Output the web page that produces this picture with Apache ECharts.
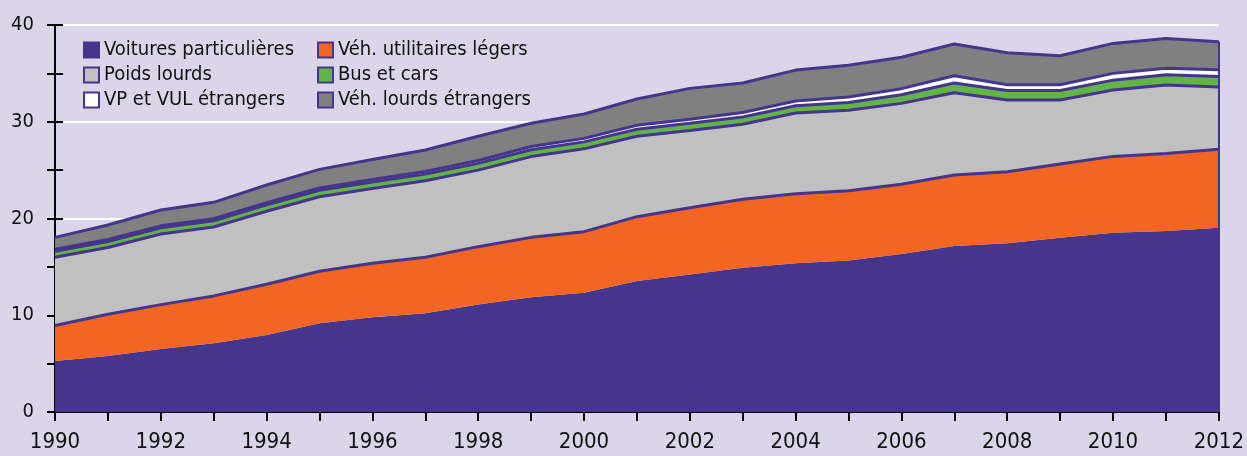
<!DOCTYPE html>
<html><head><meta charset="utf-8">
<script src="https://cdn.jsdelivr.net/npm/echarts@6/dist/echarts.min.js"></script>
<style>html,body{margin:0;padding:0;background:#dad5e8;}#c{width:1247px;height:456px;}</style>
</head><body><div id="c"></div>
<script>
const years = ['1990','1991','1992','1993','1994','1995','1996','1997','1998','1999','2000','2001','2002','2003','2004','2005','2006','2007','2008','2009','2010','2011','2012'];
const names = ['Voitures particulières','Véh. utilitaires légers','Poids lourds','Bus et cars','VP et VUL étrangers','Véh. lourds étrangers'];
const vp  = [5.27,5.8,6.5,7.1,7.96,9.17,9.8,10.2,11.1,11.85,12.33,13.54,14.2,14.9,15.37,15.66,16.33,17.16,17.43,18.02,18.54,18.7,19.05];
const vul = [3.68,4.3,4.6,4.9,5.24,5.37,5.57,5.79,5.99,6.2,6.31,6.65,6.92,7.1,7.2,7.21,7.2,7.34,7.41,7.61,7.88,8.03,8.1];
const pl  = [7.05,6.9,7.3,7.12,7.55,7.71,7.73,7.91,7.91,8.35,8.56,8.31,7.98,7.75,8.33,8.33,8.37,8.5,7.41,6.62,6.86,7.07,6.45];
const bus = [0.62,0.63,0.64,0.65,0.66,0.67,0.68,0.69,0.7,0.71,0.72,0.73,0.74,0.75,0.76,0.8,0.9,1.0,0.98,0.98,1.02,1.05,1.08];
const vpe = [0.2,0.2,0.2,0.2,0.22,0.24,0.26,0.28,0.3,0.33,0.36,0.4,0.42,0.45,0.48,0.55,0.62,0.75,0.6,0.6,0.7,0.68,0.7];
const vle = [1.23,1.5,1.64,1.7,1.83,1.92,2.06,2.21,2.5,2.4,2.52,2.72,3.19,3.05,3.2,3.3,3.24,3.29,3.31,3.0,3.1,3.07,2.9];
const yTicks = [0,10,20,30,40];

const PURPLE = '#46358c';
const colors = [PURPLE,'#f26522','#c0c0c0','#63b446','#ffffff','#808080'];
const seriesData = [vp,vul,pl,bus,vpe,vle];
const FONT = "'Liberation Sans Narrow','DejaVu Sans Condensed',sans-serif";

const series = [];
seriesData.forEach((d,i)=>{
  series.push({name:names[i],type:'line',stack:'area',data:d,symbol:'none',
    areaStyle:{color:colors[i],opacity:1},lineStyle:{width:0},itemStyle:{color:colors[i]},z:2,silent:true});
});
seriesData.forEach((d,i)=>{
  series.push({name:'_l'+i,type:'line',stack:'lines',data:d,symbol:'none',
    lineStyle:i===0?{width:0,opacity:0}:{color:PURPLE,width:3},z:3,silent:true});
});

const lastIdx = years.length-1;
const lastTotal = seriesData.reduce((s,d)=>s+d[lastIdx],0);
series.push({name:'_edge',type:'line',data:[],symbol:'none',z:4,silent:true,
  markLine:{symbol:'none',silent:true,label:{show:false},lineStyle:{color:PURPLE,width:2,type:'solid'},
    data:[[{coord:[years[lastIdx],0]},{coord:[years[lastIdx],lastTotal]}]]}});

const legendItem = (i)=>({name:names[i],icon:'rect',itemStyle:{color:colors[i],borderColor:PURPLE,borderWidth:2}});
const legendCommon = {orient:'vertical',top:38,padding:0,itemWidth:15,itemHeight:15,itemGap:1,
  textStyle:{fontFamily:FONT,fontSize:20,color:'#111',lineHeight:24},selectedMode:false};

const option = {
  backgroundColor:'#dad5e8',
  animation:false,
  grid:{left:55,right:25,top:25,bottom:44,containLabel:false},
  legend:[
    Object.assign({left:83,data:[0,2,4].map(legendItem)},legendCommon),
    Object.assign({left:317,data:[1,3,5].map(legendItem)},legendCommon)
  ],
  xAxis:[
    {type:'category',data:years,boundaryGap:false,
     axisLine:{lineStyle:{color:'#000',width:2}},
     axisTick:{show:true,interval:0,length:9,lineStyle:{color:'#000',width:2}},
     axisLabel:{interval:1,margin:19,fontFamily:FONT,fontSize:22,color:'#111'},
     splitLine:{show:false}},
    {type:'category',data:years,boundaryGap:false,position:'bottom',
     axisLine:{show:false},
     axisTick:{show:true,inside:true,interval:0,length:9,lineStyle:{color:'#000',width:2}},
     axisLabel:{show:false},splitLine:{show:false}}
  ],
  yAxis:[
    {type:'value',min:yTicks[0],max:yTicks[yTicks.length-1],interval:10,
     axisLine:{show:true,lineStyle:{color:'#000',width:2}},
     axisTick:{show:true,length:8,lineStyle:{color:'#000',width:2}},
     minorTick:{show:true,splitNumber:2,length:8,lineStyle:{color:'#000',width:2}},
     axisLabel:{margin:21,fontFamily:FONT,fontSize:20,color:'#111'},
     splitLine:{show:true,lineStyle:{color:'#ffffff',width:2}}},
    {type:'value',min:yTicks[0],max:yTicks[yTicks.length-1],interval:5,position:'left',offset:0,
     axisLine:{show:false},
     axisTick:{show:true,inside:true,length:8,lineStyle:{color:'#000',width:2}},
     axisLabel:{show:false},splitLine:{show:false}}
  ],
  series:series
};
const chart = echarts.init(document.getElementById('c'),null,{renderer:'canvas'});
chart.setOption(option);
</script></body></html>
